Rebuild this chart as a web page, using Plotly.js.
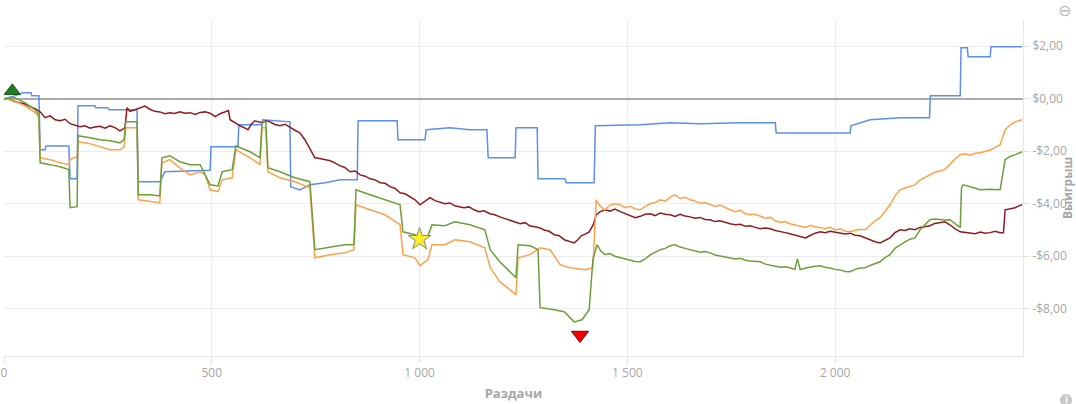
<!DOCTYPE html>
<html>
<head>
<meta charset="utf-8">
<script src="https://cdn.plot.ly/plotly-3.0.1.min.js"></script>
<style>html,body{margin:0;padding:0;background:#fff;overflow:hidden;}#chart{width:1076px;height:404px;}</style>
</head>
<body>
<div id="chart"></div>
<script>
// Hands (x) and winnings in $ (y)
const blueX = [0,26,46,65,67,84,87,99,101,156,159,176,178,219,221,250,253,320,323,375,387,496,498,563,565,621,623,688,690,712,736,773,809,850,852,946,948,1013,1016,1073,1121,1162,1165,1230,1232,1283,1285,1350,1353,1420,1423,1531,1603,1675,1771,1856,1858,2036,2038,2084,2157,2227,2229,2301,2303,2318,2320,2373,2375,2450];
const blueY = [0,0.11,0.23,0.23,0.11,0.11,-1.94,-1.94,-1.8,-1.8,-3.05,-3.05,-0.27,-0.27,-0.34,-0.34,-0.42,-0.42,-3.16,-3.16,-2.78,-2.72,-1.83,-1.83,-0.99,-0.99,-0.8,-0.88,-3.35,-3.47,-3.28,-3.2,-3.09,-3.09,-0.84,-0.84,-1.56,-1.56,-1.18,-1.1,-1.18,-1.18,-2.25,-2.25,-1.1,-1.1,-3.05,-3.05,-3.2,-3.2,-1.03,-0.99,-0.91,-0.95,-0.91,-0.91,-1.3,-1.3,-1.03,-0.8,-0.72,-0.72,0.11,0.11,1.94,1.94,1.6,1.6,1.98,1.98];

const redX = [0,12,25,38,50,62,75,87,99,111,123,135,147,159,171,183,195,207,219,231,243,255,267,279,288,291,296,303,315,327,339,351,363,375,387,399,411,423,436,448,460,472,484,496,508,520,532,540,544,556,568,580,587,596,604,612,621,630,640,652,664,676,688,700,712,724,736,748,760,773,785,796,808,820,833,845,857,869,881,893,905,917,929,941,953,965,977,989,1001,1013,1025,1037,1049,1061,1073,1085,1095,1107,1119,1131,1143,1155,1169,1181,1193,1206,1218,1230,1242,1254,1266,1278,1288,1300,1312,1324,1336,1348,1360,1372,1380,1389,1400,1408,1418,1425,1435,1446,1458,1470,1483,1495,1507,1519,1531,1543,1555,1567,1579,1591,1603,1615,1627,1639,1651,1663,1675,1687,1699,1711,1723,1735,1747,1760,1772,1784,1796,1808,1820,1832,1844,1856,1868,1880,1891,1903,1915,1929,1941,1952,1964,1976,1988,2000,2012,2024,2036,2048,2060,2072,2084,2096,2108,2120,2132,2144,2156,2168,2180,2192,2204,2216,2228,2240,2252,2264,2276,2288,2301,2313,2325,2337,2349,2361,2373,2385,2397,2405,2409,2421,2433,2442,2450];
const redY = [0,-0.02,-0.1,-0.15,-0.2,-0.3,-0.38,-0.5,-0.72,-0.65,-0.8,-0.84,-0.78,-0.95,-1.0,-1.07,-1.03,-1.12,-1.08,-1.05,-1.12,-1.03,-1.1,-1.22,-1.14,-1.1,-0.34,-0.48,-0.42,-0.35,-0.28,-0.4,-0.48,-0.5,-0.57,-0.53,-0.56,-0.5,-0.55,-0.53,-0.6,-0.52,-0.5,-0.55,-0.68,-0.57,-0.5,-0.45,-0.8,-0.92,-1.03,-1.12,-1.18,-0.95,-0.84,-0.88,-0.91,-0.84,-0.88,-0.98,-1.03,-0.97,-1.1,-1.2,-1.3,-1.56,-1.9,-2.25,-2.28,-2.32,-2.36,-2.44,-2.55,-2.62,-2.78,-2.75,-2.9,-2.95,-3.05,-3.09,-3.2,-3.22,-3.35,-3.42,-3.58,-3.62,-3.73,-3.85,-4.04,-3.9,-3.77,-3.88,-3.95,-4.0,-3.97,-4.08,-4.11,-4.15,-4.12,-4.23,-4.3,-4.27,-4.38,-4.42,-4.5,-4.57,-4.62,-4.7,-4.76,-4.72,-4.85,-4.88,-4.91,-5.0,-5.05,-5.18,-5.22,-5.37,-5.42,-5.49,-5.38,-5.22,-5.15,-5.07,-4.8,-4.42,-4.3,-4.23,-4.28,-4.2,-4.3,-4.38,-4.45,-4.53,-4.48,-4.4,-4.38,-4.45,-4.35,-4.4,-4.42,-4.48,-4.4,-4.47,-4.5,-4.55,-4.52,-4.6,-4.61,-4.68,-4.65,-4.72,-4.76,-4.8,-4.78,-4.86,-4.84,-4.9,-4.95,-4.92,-4.95,-5.02,-5.05,-5.1,-5.14,-5.2,-5.25,-5.3,-5.2,-5.12,-5.07,-5.1,-5.05,-5.08,-5.1,-5.15,-5.12,-5.2,-5.22,-5.3,-5.38,-5.45,-5.49,-5.38,-5.3,-5.1,-4.99,-5.02,-4.95,-4.99,-4.9,-4.88,-4.84,-4.75,-4.72,-4.69,-4.8,-4.95,-5.07,-5.1,-5.12,-5.14,-5.08,-5.12,-5.1,-5.05,-5.1,-5.1,-4.23,-4.2,-4.15,-4.08,-4.04];

const orangeX = [0,26,50,75,84,87,111,135,156,159,176,178,207,231,255,279,289,293,320,323,351,375,380,399,423,448,472,484,496,515,525,549,558,592,616,621,630,635,664,700,736,748,785,820,842,847,881,917,953,960,989,1001,1020,1030,1061,1085,1121,1157,1170,1193,1218,1232,1237,1266,1290,1314,1338,1362,1398,1417,1425,1435,1446,1458,1470,1483,1495,1507,1519,1531,1543,1555,1567,1579,1591,1603,1615,1627,1639,1651,1663,1675,1687,1699,1711,1723,1735,1747,1760,1772,1784,1796,1808,1820,1832,1844,1856,1868,1880,1891,1903,1915,1929,1941,1952,1964,1976,1988,2000,2012,2024,2036,2048,2060,2072,2084,2096,2108,2120,2132,2144,2156,2168,2180,2192,2204,2216,2228,2240,2252,2264,2276,2288,2301,2313,2325,2337,2349,2361,2373,2385,2397,2409,2421,2433,2442,2450];
const orangeY = [0,-0.08,-0.27,-0.53,-0.72,-2.25,-2.32,-2.44,-2.51,-2.32,-2.2,-1.64,-1.71,-1.83,-1.94,-1.94,-1.83,-1.1,-1.1,-3.85,-3.92,-3.96,-2.44,-2.32,-2.63,-2.9,-2.78,-2.9,-3.47,-3.54,-3.09,-3.01,-1.94,-2.25,-2.51,-1.1,-1.1,-2.78,-3.01,-3.16,-3.39,-6.06,-5.94,-5.87,-5.75,-4.04,-4.23,-4.42,-4.8,-5.94,-6.06,-6.36,-6.13,-5.56,-5.56,-5.37,-5.45,-5.68,-6.44,-6.97,-7.28,-7.47,-6.06,-5.94,-5.68,-5.75,-6.32,-6.44,-6.51,-6.44,-3.85,-4.1,-4.23,-4.05,-4.0,-4.04,-4.15,-4.1,-4.2,-4.23,-4.1,-4.0,-3.95,-3.85,-3.9,-3.75,-3.66,-3.8,-3.75,-3.85,-3.9,-3.98,-3.95,-4.04,-4.1,-4.05,-4.15,-4.23,-4.3,-4.25,-4.38,-4.42,-4.4,-4.46,-4.55,-4.52,-4.65,-4.7,-4.68,-4.76,-4.8,-4.85,-4.9,-4.82,-4.88,-4.91,-4.95,-4.9,-5.0,-4.95,-5.05,-5.07,-5.02,-4.97,-4.99,-4.8,-4.65,-4.53,-4.3,-4.04,-3.7,-3.47,-3.4,-3.35,-3.28,-3.1,-3.0,-2.9,-2.8,-2.75,-2.7,-2.5,-2.3,-2.13,-2.1,-2.15,-2.08,-2.06,-2.0,-1.95,-1.85,-1.75,-1.18,-1.0,-0.88,-0.85,-0.8];

const greenX = [0,26,50,75,84,87,111,135,156,159,176,178,207,231,255,279,289,293,320,323,351,375,380,399,423,448,472,496,515,525,549,558,592,616,621,630,635,664,700,736,748,785,820,842,847,881,917,953,960,989,1001,1020,1030,1061,1085,1121,1157,1170,1193,1218,1232,1237,1266,1285,1290,1324,1348,1372,1391,1408,1417,1427,1436,1446,1458,1470,1483,1495,1507,1519,1531,1543,1555,1567,1579,1591,1603,1615,1627,1639,1651,1663,1675,1687,1699,1711,1723,1735,1747,1760,1772,1784,1796,1808,1820,1832,1844,1856,1868,1880,1891,1903,1909,1916,1929,1941,1952,1964,1976,1988,2000,2012,2024,2036,2048,2060,2072,2084,2096,2108,2120,2132,2144,2156,2168,2180,2192,2204,2216,2228,2240,2252,2264,2276,2288,2301,2304,2308,2325,2349,2373,2397,2409,2421,2433,2450];
const greenY = [0,0.04,-0.15,-0.42,-0.61,-2.44,-2.51,-2.59,-2.7,-4.15,-4.11,-1.41,-1.49,-1.56,-1.6,-1.68,-1.56,-0.88,-0.88,-3.66,-3.66,-3.7,-2.25,-2.17,-2.4,-2.51,-2.51,-3.28,-3.32,-2.78,-2.7,-1.79,-2.02,-2.25,-0.88,-0.88,-2.63,-2.78,-3.01,-3.16,-5.75,-5.64,-5.56,-5.56,-3.47,-3.66,-3.85,-4.04,-5.07,-5.18,-5.3,-5.22,-4.8,-4.84,-4.69,-4.8,-4.99,-5.75,-6.21,-6.59,-6.82,-5.56,-5.6,-5.75,-7.96,-8.04,-8.11,-8.5,-8.42,-8.04,-6.13,-5.56,-5.8,-5.94,-5.9,-6.0,-6.06,-6.1,-6.15,-6.2,-6.21,-6.1,-5.95,-5.85,-5.75,-5.7,-5.6,-5.56,-5.65,-5.7,-5.75,-5.8,-5.85,-5.82,-5.87,-5.95,-5.98,-6.02,-6.06,-6.1,-6.08,-6.15,-6.18,-6.2,-6.21,-6.3,-6.35,-6.38,-6.42,-6.4,-6.44,-6.5,-6.1,-6.51,-6.45,-6.4,-6.38,-6.36,-6.42,-6.45,-6.5,-6.52,-6.58,-6.59,-6.5,-6.45,-6.44,-6.35,-6.28,-6.21,-6.05,-5.94,-5.7,-5.56,-5.45,-5.35,-5.3,-5.0,-4.8,-4.61,-4.58,-4.6,-4.62,-4.61,-4.75,-4.91,-3.4,-3.28,-3.35,-3.47,-3.45,-3.47,-2.32,-2.2,-2.13,-2.02];

// markers
const markX = [20, 1000, 1386];
const markY = [0.3, -5.35, -9.0];

// axis ticks
const xTickVals = [0, 500, 1000, 1500, 2000];
const xTickText = ['0', '500', '1 000', '1 500', '2 000'];
const yTickVals = [-8, -6, -4, -2, 0, 2];
const yTickText = ['-$8,00', '-$6,00', '-$4,00', '-$2,00', '$0,00', '$2,00'];

const line = (x, y, color) => ({x, y, type: 'scatter', mode: 'lines', line: {color, width: 1.5}, hoverinfo: 'skip', showlegend: false});

const traces = [
  line(blueX, blueY, '#5b8ff0'),
  line(redX, redY, '#8e1b1e'),
  line(orangeX, orangeY, '#ffa04a'),
  line(greenX, greenY, '#6e9e3a'),
  {x: [markX[0]], y: [markY[0]], type: 'scatter', mode: 'markers', marker: {symbol: 'triangle-up', size: 14, color: '#1e7d1e', line: {color: '#145214', width: 1}}, hoverinfo: 'skip', showlegend: false},
  {x: [markX[1]], y: [markY[1]], type: 'scatter', mode: 'markers', marker: {symbol: 'star', size: 17, color: '#ffee22', line: {color: '#888', width: 1}}, hoverinfo: 'skip', showlegend: false},
  {x: [markX[2]], y: [markY[2]], type: 'scatter', mode: 'markers', marker: {symbol: 'triangle-down', size: 15, color: '#ee0000', line: {color: '#880000', width: 1}}, hoverinfo: 'skip', showlegend: false}
];

const layout = {
  width: 1076, height: 404,
  margin: {l: 4, r: 53, t: 20, b: 48},
  paper_bgcolor: '#fff', plot_bgcolor: '#fff',
  font: {family: 'Open Sans, Noto Sans, sans-serif', size: 12, color: '#a6a6a6'},
  showlegend: false,
  hovermode: false,
  xaxis: {
    range: [0, 2452], tickvals: xTickVals, ticktext: xTickText,
    showgrid: true, gridcolor: '#ececec', zeroline: false,
    showline: true, linecolor: '#e6e6e6', ticks: 'outside', ticklen: 6, tickcolor: '#e0e0e0',
    tickfont: {size: 12, color: '#a6a6a6'},
    title: {text: 'Раздачи', font: {size: 13, color: '#a6a6a6', weight: 'bold'}, standoff: 8}
  },
  yaxis: {
    side: 'right', range: [-9.8, 3.0], tickvals: yTickVals, ticktext: yTickText,
    showgrid: true, gridcolor: '#ececec',
    zeroline: true, zerolinecolor: '#aaaaaa', zerolinewidth: 1.5,
    showline: true, linecolor: '#e6e6e6', ticks: 'outside', ticklen: 6, tickcolor: '#e0e0e0',
    tickfont: {size: 12, color: '#a6a6a6'},
    title: {text: 'Выигрыш', font: {size: 12, color: '#a6a6a6', weight: 'bold'}, standoff: 13}
  },
  annotations: [
    {xref: 'paper', yref: 'paper', x: 1.0405, y: 1.0, xanchor: 'center', yanchor: 'middle', yshift: 10, text: '⊖', showarrow: false, font: {size: 16, color: '#bbbbbb', family: 'DejaVu Sans'}},
    {xref: 'paper', yref: 'paper', x: 1.0422, y: -0.131, xanchor: 'center', yanchor: 'middle', text: '<b>i</b>', showarrow: false, font: {size: 9, color: '#ffffff', family: 'DejaVu Sans'}}
  ],
  shapes: [
    {type: 'circle', xref: 'paper', yref: 'paper', x0: 1.0363, x1: 1.0481, y0: -0.113, y1: -0.149, fillcolor: '#c8c8c8', line: {width: 0}, layer: 'below'}
  ]
};

Plotly.newPlot('chart', traces, layout, {displayModeBar: false, staticPlot: true});
</script>
</body>
</html>
